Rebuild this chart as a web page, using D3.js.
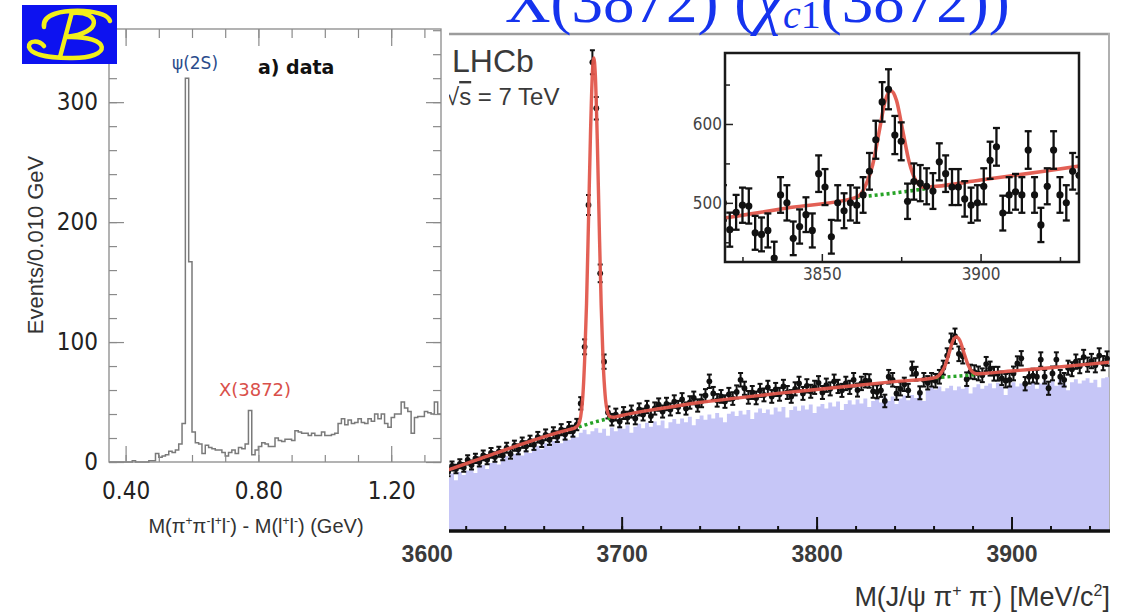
<!DOCTYPE html>
<html>
<head>
<meta charset="utf-8">
<script src="https://cdn.jsdelivr.net/npm/d3@7"></script>
<style>
  body { margin: 0; background: #fff; }
  svg { display: block; }
</style>
</head>
<body>
<script>
// ---------- data ----------

// Belle: events per 0.010 GeV bin, first bin starts at 0.35 GeV
var belleBinLow = 0.35;
var belleBinWidth = 0.01;
var belleCounts = [
  0, 0, 0, 0, 0, 0, 0, 1, 0, 0,
  0, 0, 1, 1, 7, 4, 5, 6, 9, 8,
  10, 15, 32, 320, 167, 25, 16, 15, 7, 14,
  12, 11, 10, 10, 8, 5, 8, 10, 7, 12,
  11, 15, 43, 6, 10, 13, 16, 15, 13, 13,
  20, 18, 17, 19, 19, 18, 26, 25, 24, 24,
  22, 24, 22, 22, 25, 22, 22, 23, 24, 32,
  36, 31, 35, 32, 33, 36, 33, 32, 36, 34,
  40, 36, 40, 32, 29, 37, 40, 40, 50, 45,
  42, 24, 37, 38, 38, 42, 41, 40, 50, 40
];
var belleYTicks = [0, 100, 200, 300];
var belleXTicks = [0.40, 0.80, 1.20];

// LHCb: candidates per 2 MeV bin, first bin starts at 3610 MeV
var lhcbBinLow = 3610;
var lhcbBinWidth = 2;
var lhcbData = [
  195, 215, 205, 222, 210, 235, 218, 240, 228, 250,
  236, 258, 245, 262, 250, 275, 255, 282, 270, 292,
  280, 298, 285, 310, 295, 318, 302, 325, 312, 335,
  320, 342, 330, 352, 422, 609, 1078, 1550, 1398, 852,
  560, 392, 368, 385, 362, 390, 375, 395, 372, 402,
  385, 410, 380, 405, 418, 395, 420, 402, 428, 410,
  435, 405, 425, 440, 415, 430, 448, 495, 455, 432,
  445, 428, 452, 438, 460, 500, 472, 442, 458, 440,
  465, 450, 475, 445, 468, 452, 478, 458, 445, 470,
  488, 455, 480, 462, 475, 490, 458, 482, 470, 495,
  478, 465, 488, 475, 500, 466, 488, 497, 496, 462,
  460, 465, 430, 510, 500, 455, 470, 485, 465, 537,
  520, 457, 500, 490, 500, 497, 510, 540, 580, 628,
  644, 586, 578, 502, 527, 525, 521, 515, 552, 537,
  520, 520, 505, 497, 500, 521, 554, 571, 487, 510,
  514, 510, 567, 510, 472, 521, 567, 510, 500, 540,
  535, 560, 545, 575, 550, 562, 548, 580, 555, 570
];
// shaded (lavender) histogram, same bins
var lhcbShade = [
  175, 190, 168, 195, 185, 200, 205, 192, 212, 218,
  205, 225, 232, 220, 240, 248, 235, 255, 262, 250,
  268, 258, 275, 282, 270, 290, 280, 298, 305, 290,
  310, 302, 318, 310, 325, 335, 320, 330, 340, 325,
  338, 315, 342, 330, 348, 338, 350, 325, 345, 355,
  340, 358, 345, 362, 350, 365, 340, 360, 370, 355,
  372, 360, 378, 350, 370, 382, 368, 385, 372, 390,
  375, 360, 388, 395, 380, 398, 385, 400, 370, 392,
  405, 390, 402, 385, 408, 395, 410, 375, 400, 412,
  398, 415, 402, 418, 390, 412, 420, 405, 425, 412,
  428, 400, 420, 432, 418, 435, 422, 438, 410, 430,
  440, 425, 442, 430, 445, 420, 438, 448, 432, 450,
  440, 455, 430, 465, 475, 468, 478, 462, 472, 480,
  465, 478, 470, 482, 455, 475, 485, 470, 480, 488,
  472, 490, 478, 450, 482, 492, 478, 488, 495, 480,
  492, 470, 488, 498, 485, 495, 480, 500, 488, 465,
  492, 502, 488, 498, 505, 490, 500, 475, 505, 508
];
// fitted curve (red), read at key masses
var fitMass = [3600, 3611, 3630, 3650, 3670, 3674, 3676, 3678, 3679, 3680,
  3681, 3682, 3683, 3684, 3685, 3685.7, 3686.5, 3687.5, 3688.5, 3689.5,
  3690.5, 3691.5, 3692.5, 3694, 3696, 3700, 3720, 3740, 3760, 3780,
  3800, 3820, 3840, 3860, 3862, 3864, 3866, 3868, 3870, 3871.8,
  3873.5, 3875.5, 3877.5, 3879.5, 3882, 3886, 3900, 3920, 3950];
var fitValue = [180, 202, 245, 290, 330, 337, 341, 354, 379, 437,
  562, 753, 1024, 1308, 1515, 1564, 1508, 1295, 1010, 747,
  560, 452, 401, 378, 376, 382, 405, 425, 440, 455,
  468, 481, 494, 506, 510, 524, 548, 589, 630, 642,
  630, 591, 552, 529, 520, 521, 529, 540, 558];
// background component under the two peaks (green dotted)
var bkgPsiMass = [3678, 3686, 3694];
var bkgPsiValue = [344, 360, 373];
var bkgXMass = [3861, 3872, 3883];
var bkgXValue = [507, 512, 518];

var lhcbXTicks = [3600, 3700, 3800, 3900];
var insetXTicks = [3850, 3900];
var insetYTicks = [500, 600];

// ---------- setup ----------
var width = 1126;
var height = 615;

var svg = d3.select("body")
  .append("svg")
    .attr("width", width)
    .attr("height", height);

var defs = svg.append("defs");

var sans = "'Liberation Sans', Arial, sans-serif";
var narrow = "'Liberation Sans Narrow', 'DejaVu Sans Condensed', 'Liberation Sans', sans-serif";

// text with superscripts: parts = [[string, isSup], ...]
function supText(sel, parts, size, shift) {
  var up = false;
  parts.forEach(function(p) {
    var t = sel.append("tspan").text(p[0]);
    if (p[1] && !up) { t.attr("dy", -shift).attr("font-size", size); up = true; }
    else if (p[1]) { t.attr("font-size", size); }
    else if (up) { t.attr("dy", shift); up = false; }
  });
}

// ================= LHCb panel (drawn first, Belle sits on top) =================

var lx = d3.scaleLinear().domain([3600, 3950]).range([426.7, 1109]);
var ly = d3.scaleLinear().domain([0, 1650]).range([531, 32]);

defs.append("clipPath").attr("id", "mainClip")
  .append("rect")
    .attr("x", 426.7).attr("y", 32)
    .attr("width", 1110 - 426.7).attr("height", 499);

var lhcb = svg.append("g");

// frame (top and right)
lhcb.append("line")
  .attr("x1", 449).attr("x2", 1110).attr("y1", 34).attr("y2", 34)
  .attr("stroke", "#9c9c9c").attr("stroke-width", 2.5);
lhcb.append("line")
  .attr("x1", 1109).attr("x2", 1109).attr("y1", 33).attr("y2", 531)
  .attr("stroke", "#b0b0b0").attr("stroke-width", 2);

var plot = lhcb.append("g").attr("clip-path", "url(#mainClip)");

// lavender histogram
var shadePts = lhcbShade.map((v, i) => [lhcbBinLow + i * lhcbBinWidth, v]);
shadePts.push([lhcbBinLow + lhcbShade.length * lhcbBinWidth, lhcbShade[lhcbShade.length - 1]]);

plot.append("path")
  .datum(shadePts)
  .attr("fill", "#c6c6f7")
  .attr("d", d3.area()
    .curve(d3.curveStepAfter)
    .x(d => lx(d[0]))
    .y0(ly(0))
    .y1(d => ly(d[1])));

var dataPts = lhcbData.map((v, i) => ({ m: lhcbBinLow + (i + 0.5) * lhcbBinWidth, v: v }));
var fitPts = fitMass.map((m, i) => [m, fitValue[i]]);
var bkgPsiPts = bkgPsiMass.map((m, i) => [m, bkgPsiValue[i]]);
var bkgXPts = bkgXMass.map((m, i) => [m, bkgXValue[i]]);

function drawPoints(g, x, y, r, sw, cap) {
  var pt = g.selectAll("g.pt")
    .data(dataPts)
    .join("g")
      .attr("class", "pt");
  pt.append("line")
    .attr("x1", d => x(d.m)).attr("x2", d => x(d.m))
    .attr("y1", d => y(d.v - Math.sqrt(d.v)))
    .attr("y2", d => y(d.v + Math.sqrt(d.v)))
    .attr("stroke", "#111").attr("stroke-width", sw);
  [-1, 1].forEach(function(s) {
    pt.append("line")
      .attr("x1", d => x(d.m) - cap).attr("x2", d => x(d.m) + cap)
      .attr("y1", d => y(d.v + s * Math.sqrt(d.v)))
      .attr("y2", d => y(d.v + s * Math.sqrt(d.v)))
      .attr("stroke", "#111").attr("stroke-width", sw);
  });
  pt.append("circle")
    .attr("cx", d => x(d.m))
    .attr("cy", d => y(d.v))
    .attr("r", r)
    .attr("fill", "#111");
}

function drawFit(g, x, y, w) {
  var line = d3.line().curve(d3.curveMonotoneX).x(d => x(d[0])).y(d => y(d[1]));
  [bkgPsiPts, bkgXPts].forEach(function(p) {
    g.append("path")
      .datum(p)
      .attr("d", d3.line().x(d => x(d[0])).y(d => y(d[1])))
      .attr("fill", "none")
      .attr("stroke", "#26a326")
      .attr("stroke-width", w)
      .attr("stroke-dasharray", "3,3");
  });
  g.append("path")
    .datum(fitPts)
    .attr("d", line)
    .attr("fill", "none")
    .attr("stroke", "#e2574c")
    .attr("stroke-width", w)
    .attr("stroke-opacity", 0.95);
}

drawPoints(plot, lx, ly, 2.9, 2, 2.5);
drawFit(plot, lx, ly, 3.4);

// bottom axis
var lhcbMinor = lhcb.append("g")
  .attr("transform", "translate(0,531)")
  .call(d3.axisBottom(lx).tickValues(d3.range(3600, 3951, 20)).tickSize(-5).tickFormat(""));
lhcbMinor.select(".domain").remove();
lhcbMinor.selectAll("line").attr("stroke", "#111").attr("stroke-width", 2);

var lhcbMajor = lhcb.append("g")
  .attr("transform", "translate(0,531)")
  .call(d3.axisBottom(lx).tickValues(lhcbXTicks).tickSize(-14).tickPadding(15).tickFormat(d3.format("d")));
lhcbMajor.select(".domain").remove();
lhcbMajor.selectAll("line").attr("stroke", "#111").attr("stroke-width", 2);
lhcbMajor.selectAll("text")
  .attr("font-family", sans)
  .attr("font-size", 23)
  .attr("font-weight", "bold")
  .attr("fill", "#3a3a3a");

lhcb.append("line")
  .attr("x1", 426.7).attr("x2", 1110).attr("y1", 531).attr("y2", 531)
  .attr("stroke", "#111").attr("stroke-width", 3.5);

// labels
lhcb.append("text")
  .attr("x", 452).attr("y", 72)
  .attr("font-family", sans).attr("font-size", 32)
  .attr("fill", "#3a3a3a")
  .text("LHCb");

var rootS = lhcb.append("text")
  .attr("x", 446).attr("y", 105)
  .attr("font-family", sans).attr("font-size", 24)
  .attr("fill", "#3a3a3a");
rootS.append("tspan").text("\u221A");
rootS.append("tspan").attr("text-decoration", "overline").text("s");
rootS.append("tspan").text(" = 7 TeV");

var lhcbTitle = lhcb.append("text")
  .attr("x", 1110).attr("y", 606)
  .attr("text-anchor", "end")
  .attr("font-family", sans).attr("font-size", 27)
  .attr("fill", "#333");
supText(lhcbTitle, [["M(J/\u03C8 \u03C0", false], ["+", true], [" \u03C0", false], ["-", true],
  [") [MeV/c", false], ["2", true], ["]", false]], 16, 10);

// ---------- inset ----------
var ix = d3.scaleLinear().domain([3819.5, 3931]).range([725, 1079]);
var iy = d3.scaleLinear().domain([425, 690]).range([262, 53]);

defs.append("clipPath").attr("id", "insetClip")
  .append("rect")
    .attr("x", 725).attr("y", 53)
    .attr("width", 354).attr("height", 209);

var inset = lhcb.append("g");
inset.append("rect")
  .attr("x", 725).attr("y", 53).attr("width", 354).attr("height", 209)
  .attr("fill", "#fff");

var insetPlot = inset.append("g").attr("clip-path", "url(#insetClip)");
drawFit(insetPlot, ix, iy, 3.6);
drawPoints(insetPlot, ix, iy, 3.6, 2.3, 3.5);

var insetLeftMinor = inset.append("g")
  .attr("transform", "translate(725,0)")
  .call(d3.axisLeft(iy).tickValues([450, 550, 650]).tickSize(-5).tickFormat(""));
var insetLeft = inset.append("g")
  .attr("transform", "translate(725,0)")
  .call(d3.axisLeft(iy).tickValues(insetYTicks).tickSize(-8).tickPadding(3).tickFormat(d3.format("d")));
var insetBottomMinor = inset.append("g")
  .attr("transform", "translate(0,262)")
  .call(d3.axisBottom(ix).tickValues([3825, 3875, 3925]).tickSize(-5).tickFormat(""));
var insetBottom = inset.append("g")
  .attr("transform", "translate(0,262)")
  .call(d3.axisBottom(ix).tickValues(insetXTicks).tickSize(-8).tickPadding(6).tickFormat(d3.format("d")));

[insetLeftMinor, insetLeft, insetBottomMinor, insetBottom].forEach(function(a) {
  a.select(".domain").remove();
  a.selectAll("line").attr("stroke", "#222").attr("stroke-width", 1.5);
  a.selectAll("text")
    .attr("font-family", narrow)
    .attr("font-size", 17)
    .attr("fill", "#444");
});

inset.append("rect")
  .attr("x", 725).attr("y", 53).attr("width", 354).attr("height", 209)
  .attr("fill", "none")
  .attr("stroke", "#1a1a1a")
  .attr("stroke-width", 2.5);

// ================= Belle panel =================

svg.append("rect")
  .attr("x", 0).attr("y", 0)
  .attr("width", 449).attr("height", 543)
  .attr("fill", "#fff");

var bx = d3.scaleLinear().domain([0.35, 1.35]).range([109, 441]);
var by = d3.scaleLinear().domain([0, 361]).range([462, 29]);

var belle = svg.append("g");

var bellePts = belleCounts.map((c, i) => [belleBinLow + i * belleBinWidth, c]);
bellePts.push([belleBinLow + belleCounts.length * belleBinWidth, belleCounts[belleCounts.length - 1]]);

belle.append("path")
  .datum(bellePts)
  .attr("d", d3.line().curve(d3.curveStepAfter).x(d => bx(d[0])).y(d => by(d[1])))
  .attr("fill", "none")
  .attr("stroke", "#7a7a7a")
  .attr("stroke-width", 1.5);

// ticks on all four sides
var tickGroups = [];
var yMinor = d3.range(0, 361, 20);
var xMinor = d3.range(4, 14).map(d => d / 10);

tickGroups.push(belle.append("g").attr("transform", "translate(109,0)")
  .call(d3.axisLeft(by).tickValues(yMinor).tickSize(-8).tickFormat("")));
tickGroups.push(belle.append("g").attr("transform", "translate(109,0)")
  .call(d3.axisLeft(by).tickValues(belleYTicks).tickSize(-15).tickPadding(11).tickFormat(d3.format("d"))));
tickGroups.push(belle.append("g").attr("transform", "translate(441,0)")
  .call(d3.axisRight(by).tickValues(yMinor).tickSize(-8).tickFormat("")));
tickGroups.push(belle.append("g").attr("transform", "translate(441,0)")
  .call(d3.axisRight(by).tickValues(belleYTicks).tickSize(-15).tickFormat("")));
tickGroups.push(belle.append("g").attr("transform", "translate(0,462)")
  .call(d3.axisBottom(bx).tickValues(xMinor).tickSize(-7).tickFormat("")));
tickGroups.push(belle.append("g").attr("transform", "translate(0,462)")
  .call(d3.axisBottom(bx).tickValues(belleXTicks).tickSize(-16).tickPadding(20).tickFormat(d3.format(".2f"))));
tickGroups.push(belle.append("g").attr("transform", "translate(0,29)")
  .call(d3.axisTop(bx).tickValues(xMinor).tickSize(-9).tickFormat("")));
tickGroups.push(belle.append("g").attr("transform", "translate(0,29)")
  .call(d3.axisTop(bx).tickValues(belleXTicks).tickSize(-17).tickFormat("")));

tickGroups.forEach(function(a) {
  a.select(".domain").remove();
  a.selectAll("line").attr("stroke", "#8a8a8a").attr("stroke-width", 1.2);
  a.selectAll("text")
    .attr("font-family", narrow)
    .attr("font-size", 24)
    .attr("fill", "#222");
});

belle.append("rect")
  .attr("x", 109).attr("y", 29)
  .attr("width", 332).attr("height", 433)
  .attr("fill", "none")
  .attr("stroke", "#8a8a8a")
  .attr("stroke-width", 1.3);

belle.append("text")
  .attr("transform", "translate(43,245) rotate(-90)")
  .attr("text-anchor", "middle")
  .attr("font-family", sans).attr("font-size", 22)
  .attr("fill", "#333")
  .text("Events/0.010 GeV");

var belleTitle = belle.append("text")
  .attr("x", 256).attr("y", 533)
  .attr("text-anchor", "middle")
  .attr("font-family", sans).attr("font-size", 20)
  .attr("fill", "#333");
supText(belleTitle, [["M(\u03C0", false], ["+", true], ["\u03C0", false], ["-", true],
  ["l", false], ["+", true], ["l", false], ["-", true], [") - M(l", false], ["+", true],
  ["l", false], ["-", true], [") (GeV)", false]], 12, 8);

belle.append("text")
  .attr("x", 195).attr("y", 69)
  .attr("text-anchor", "middle")
  .attr("font-family", "'DejaVu Sans', sans-serif").attr("font-size", 17)
  .attr("fill", "#2b4c8c")
  .text("\u03C8(2S)");

belle.append("text")
  .attr("x", 258).attr("y", 74)
  .attr("font-family", "'DejaVu Sans', sans-serif").attr("font-size", 19)
  .attr("font-weight", "bold")
  .attr("fill", "#111")
  .text("a) data");

belle.append("text")
  .attr("x", 255).attr("y", 396)
  .attr("text-anchor", "middle")
  .attr("font-family", "'DejaVu Sans', sans-serif").attr("font-size", 18)
  .attr("fill", "#d9504a")
  .text("X(3872)");

// Belle logo
var logo = svg.append("g");
logo.append("rect")
  .attr("x", 22).attr("y", 5)
  .attr("width", 95).attr("height", 59)
  .attr("fill", "#0d12f0");
logo.append("path")
  .attr("d", "M44,27 C42,14 62,10 84,11 C98,12 108,15 110,21 " +
             "M72,12 L60,57 " +
             "M73,13 C100,11 104,33 66,37 " +
             "M66,37 C112,35 114,59 70,58 C50,58 31,55 29,47 C28,40 39,40 44,46")
  .attr("fill", "none")
  .attr("stroke", "#f2ef1a")
  .attr("stroke-width", 4.5)
  .attr("stroke-linecap", "round");

// ================= title (cut at the top edge, as in the source) =================
var title = svg.append("text")
  .attr("x", 505).attr("y", 22)
  .attr("font-family", "'Liberation Serif', 'Times New Roman', serif")
  .attr("font-size", 63)
  .attr("fill", "#1533ee");
title.append("tspan").text("X(3872) (");
title.append("tspan").attr("font-style", "italic").text("\u03C7");
title.append("tspan").attr("font-style", "italic").attr("font-size", 40).attr("dy", 6).text("c");
title.append("tspan").attr("font-size", 40).text("1");
title.append("tspan").attr("dy", -6).text("(3872))");
</script>
</body>
</html>
